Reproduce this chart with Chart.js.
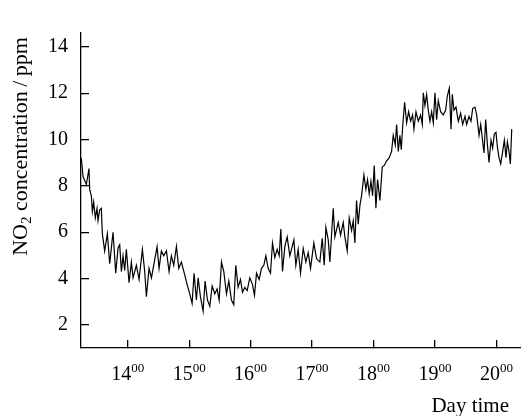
<!DOCTYPE html>
<html><head><meta charset="utf-8">
<style>html,body{margin:0;padding:0;background:#fff}#wrap{width:521px;height:416px}</style>
<script src="https://cdn.jsdelivr.net/npm/chart.js@4/dist/chart.umd.min.js"></script>
</head><body><div id="wrap"><canvas id="c" width="521" height="416"></canvas></div>
<script>
// time of day in decimal hours
const timeHours = [
13.245,13.273,13.327,13.370,13.381,13.408,13.425,13.446,13.473,13.501,
13.517,13.544,13.571,13.587,13.625,13.669,13.707,13.761,13.805,13.843,
13.870,13.897,13.924,13.951,13.978,14.022,14.060,14.087,14.141,14.185,
14.239,14.277,14.304,14.347,14.386,14.423,14.478,14.510,14.548,14.586,
14.630,14.673,14.711,14.749,14.793,14.831,14.874,14.928,14.966,15.010,
15.048,15.080,15.118,15.146,15.184,15.227,15.259,15.298,15.336,15.374,
15.417,15.455,15.488,15.526,15.564,15.607,15.645,15.688,15.726,15.759,
15.797,15.835,15.868,15.906,15.944,15.987,16.030,16.063,16.096,16.139,
16.177,16.215,16.248,16.286,16.324,16.356,16.394,16.432,16.465,16.492,
16.519,16.557,16.595,16.638,
16.704,16.736,16.774,16.812,16.856,16.899,16.937,16.975,17.029,17.073,
17.127,17.165,17.198,17.225,17.263,17.290,17.344,17.371,17.426,17.464,
17.507,17.534,17.572,17.605,17.643,17.670,17.697,17.724,17.751,17.779,
17.806,17.844,17.876,17.903,17.930,17.958,17.985,18.012,18.039,18.066,
18.104,18.142,18.175,18.213,18.256,18.294,18.321,18.354,18.376,18.403,
18.430,18.452,18.473,18.506,18.539,18.571,18.604,18.636,18.658,18.691,
18.729,18.767,18.794,18.810,18.837,18.864,18.891,18.919,18.946,18.973,
19.000,19.027,19.054,19.092,19.136,19.174,19.201,19.233,19.261,19.282,
19.309,19.342,19.380,19.418,19.451,19.489,19.516,19.554,19.586,19.614,
19.651,19.679,19.717,19.744,19.771,19.798,19.825,19.852,19.879,19.912,
19.939,19.966,19.993,20.015,20.042,20.070,20.102,20.129,20.156,20.178,
20.205,20.227,20.249
];
// NO2 concentration, ppm
const no2ppm = [
9.2,8.4,8.06,8.75,7.85,7.58,6.9,7.3,6.62,7.03,
6.5,6.96,7.03,5.94,5.19,5.94,4.64,6.0,4.23,5.32,
5.46,4.3,4.98,4.35,5.26,3.82,4.71,4.03,4.57,3.96,
5.26,4.3,3.21,4.44,4.03,4.57,5.37,4.44,5.19,4.98,
5.19,4.3,4.98,4.57,5.39,4.44,4.71,4.16,3.75,3.34,
2.93,4.23,3.07,4.03,3.21,2.59,3.89,3.07,2.80,3.68,
3.34,3.55,3.07,4.71,4.3,3.34,3.89,3.07,2.87,4.57,
3.62,3.96,3.41,3.62,3.48,4.03,3.75,3.27,4.23,3.96,
4.44,4.57,4.98,4.44,4.23,5.53,4.91,5.26,4.98,6.14,
4.3,5.39,5.80,4.98,
5.67,4.57,5.26,4.23,5.3,4.71,5.12,4.44,5.53,4.85,
4.71,5.74,4.57,6.21,5.67,4.71,7.03,5.80,6.42,5.87,
6.42,5.80,5.19,6.62,6.08,6.49,5.53,7.37,6.35,7.17,
7.58,8.47,7.85,8.27,7.65,8.2,7.58,8.88,7.03,8.27,
7.37,8.81,8.88,9.08,9.22,9.49,10.18,9.77,10.65,9.49,
10.18,9.56,10.52,11.61,10.72,11.2,10.79,11.06,10.45,11.2,
10.79,11.06,10.65,12.02,11.47,11.95,11.27,10.79,11.2,10.72,
12.02,10.86,11.68,11.2,11.06,11.27,11.88,12.22,10.45,11.95,
11.27,11.4,10.79,11.13,10.65,11.0,10.65,11.0,10.79,11.34,
11.4,11.06,10.18,10.65,10.04,9.42,10.86,9.83,9.01,9.97,
9.63,10.24,10.31,9.70,9.22,8.95,9.49,9.97,9.22,9.90,
9.49,8.95,10.45
];
const hourTicks = [14,15,16,17,18,19,20];
const hourSuffix = '00';
const yTicks = [2,4,6,8,10,12,14];
const xTitle = 'Day time';
const yTitleParts = ['NO', '2', ' concentration\u2009/\u2009ppm'];

const SERIF = '"Liberation Serif", "Times New Roman", serif';
Chart.defaults.font.family = SERIF;
Chart.defaults.color = '#000';

const textPlugin = {
  id: 'textPlugin',
  afterDraw(chart) {
    const ctx = chart.ctx;
    const xs = chart.scales.x;
    ctx.save();
    ctx.fillStyle = '#000';
    ctx.textBaseline = 'alphabetic';
    ctx.textAlign = 'left';
    const mainFont = '20px ' + SERIF, supFont = '13px ' + SERIF;
    const base = xs.top + 32;
    hourTicks.forEach(h => {
      const px = xs.getPixelForValue(h);
      const s = String(h);
      ctx.font = mainFont; const w1 = ctx.measureText(s).width;
      ctx.font = supFont; const w2 = ctx.measureText(hourSuffix).width;
      const x0 = px - (w1 + w2) / 2;
      ctx.font = mainFont; ctx.fillText(s, x0, base);
      ctx.font = supFont; ctx.fillText(hourSuffix, x0 + w1, base - 8);
    });
    ctx.font = '21px ' + SERIF;
    ctx.textAlign = 'right';
    ctx.fillText(xTitle, chart.width - 12, xs.top + 64);
    // y title rotated
    const ys = chart.scales.y;
    const cy = (ys.top + ys.bottom) / 2 - 44;
    ctx.translate(21, cy);
    ctx.rotate(-Math.PI / 2);
    ctx.textAlign = 'left';
    ctx.textBaseline = 'middle';
    const f1 = '22px ' + SERIF, f2 = '15px ' + SERIF;
    ctx.font = f1; const a = ctx.measureText(yTitleParts[0]).width;
    ctx.font = f2; const b = ctx.measureText(yTitleParts[1]).width;
    ctx.font = f1; const c = ctx.measureText(yTitleParts[2]).width;
    let x = -(a + b + c) / 2;
    ctx.font = f1; ctx.fillText(yTitleParts[0], x, 0); x += a;
    ctx.font = f2; ctx.fillText(yTitleParts[1], x, 6); x += b;
    ctx.font = f1; ctx.fillText(yTitleParts[2], x, 0);
    ctx.restore();
  }
};

new Chart(document.getElementById('c'), {
  type: 'line',
  data: {
    datasets: [{
      data: timeHours.map((t, i) => ({x: t, y: no2ppm[i]})),
      borderColor: '#000',
      borderWidth: 1.2,
      pointRadius: 0,
      tension: 0,
      fill: false
    }]
  },
  options: {
    responsive: false,
    animation: false,
    devicePixelRatio: 1,
    layout: {padding: {top: 15, right: 0, bottom: 0, left: 0}},
    plugins: {legend: {display: false}, tooltip: {enabled: false}},
    scales: {
      x: {
        type: 'linear', min: 13.24, max: 20.40,
        afterBuildTicks: s => { s.ticks = hourTicks.map(v => ({value: v})); },
        afterFit: s => { s.height = 68; },
        ticks: {display: false},
        border: {display: true, color: '#000', width: 1.3},
        grid: {display: true, drawOnChartArea: false, drawTicks: true, tickLength: -8, color: '#000', lineWidth: 1.3}
      },
      y: {
        type: 'linear', min: 1, max: 14.6,
        afterBuildTicks: s => { s.ticks = yTicks.map(v => ({value: v})); },
        afterFit: s => { s.width = 81; },
        ticks: {font: {size: 20, family: SERIF}, color: '#000', padding: 21},
        border: {display: true, color: '#000', width: 1.3},
        grid: {display: true, drawOnChartArea: false, drawTicks: true, tickLength: -8, color: '#000', lineWidth: 1.3}
      }
    }
  },
  plugins: [textPlugin]
});
</script>
</body></html>
